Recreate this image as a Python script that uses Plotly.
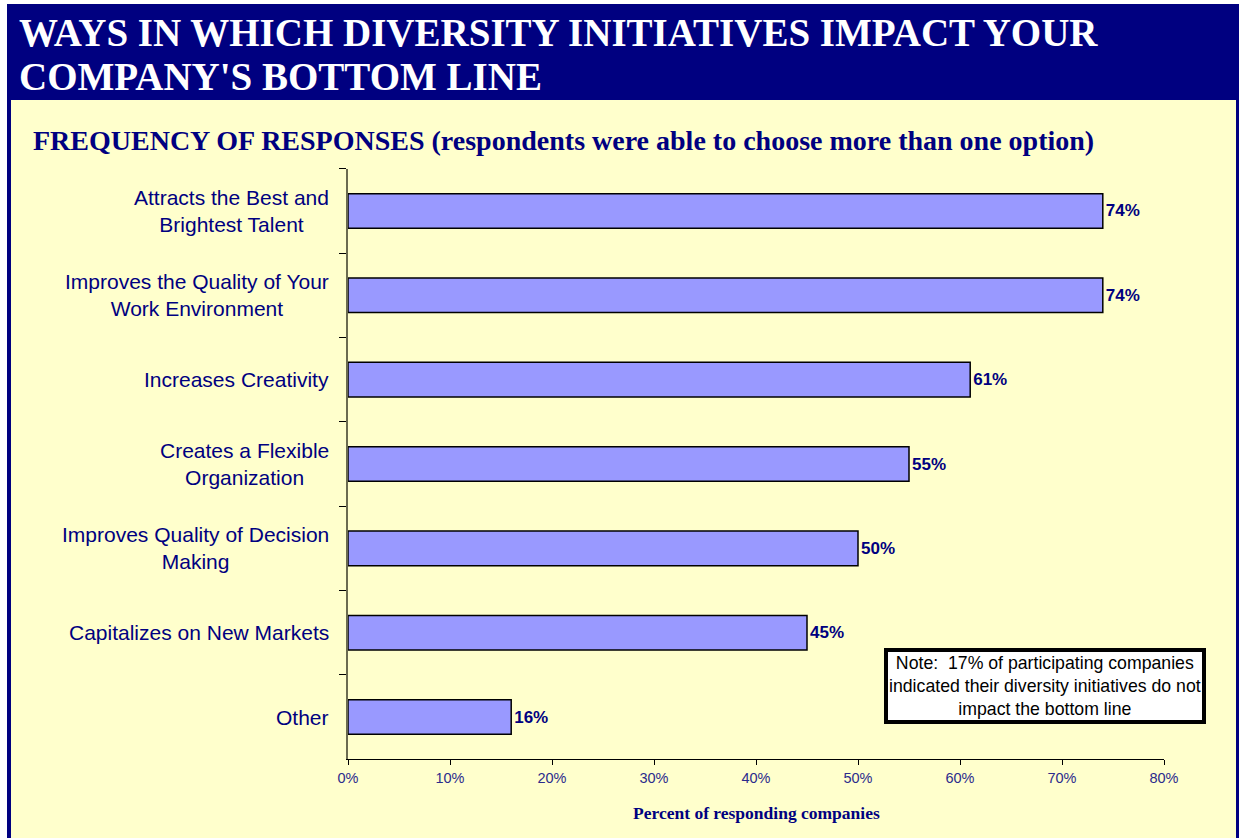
import plotly.graph_objects as go

W, H = 1239, 838

categories = [
    "Attracts the Best and<br>Brightest Talent",
    "Improves the Quality of Your<br>Work Environment",
    "Increases Creativity",
    "Creates a Flexible<br>Organization",
    "Improves Quality of Decision<br>Making",
    "Capitalizes on New Markets",
    "Other",
]
values = [74, 74, 61, 55, 50, 45, 16]
x_ticks = [0, 10, 20, 30, 40, 50, 60, 70, 80]
x_tick_labels = ["0%", "10%", "20%", "30%", "40%", "50%", "60%", "70%", "80%"]

title_line1 = "WAYS IN WHICH DIVERSITY INITIATIVES IMPACT YOUR"
title_line2 = "COMPANY'S BOTTOM LINE"
subtitle = "FREQUENCY OF RESPONSES (respondents were able to choose more than one option)"
x_title = "Percent of responding companies"
note = "Note:  17% of participating companies<br>indicated their diversity initiatives do not<br>impact the bottom line"

NAVY = "#000080"
SANS = "Arial, Liberation Sans, sans-serif"
SERIF = "Palatino Linotype, Book Antiqua, Liberation Serif, serif"


def px(x):
    return x / W


def py(y):
    return 1 - y / H


fig = go.Figure()
fig.add_trace(go.Bar(
    y=categories,
    x=values,
    orientation="h",
    marker=dict(color="#9999FF", line=dict(color="black", width=1.5)),
    text=[f"{v}%" for v in values],
    textposition="outside",
    textfont=dict(family=SANS, size=17, color=NAVY, weight="bold"),
    cliponaxis=False,
    width=0.41,
    showlegend=False,
))

shapes = [
    dict(type="rect", xref="paper", yref="paper", x0=px(7), x1=px(1239), y0=py(838), y1=py(4),
         fillcolor="#FFFFCC", line=dict(width=0), layer="below"),
    dict(type="rect", xref="paper", yref="paper", x0=px(7), x1=px(1239), y0=py(100), y1=py(4),
         fillcolor=NAVY, line=dict(width=0), layer="below"),
    dict(type="rect", xref="paper", yref="paper", x0=px(7), x1=px(11), y0=py(838), y1=py(4),
         fillcolor=NAVY, line=dict(width=0), layer="below"),
    dict(type="rect", xref="paper", yref="paper", x0=px(1236), x1=px(1239), y0=py(838), y1=py(4),
         fillcolor=NAVY, line=dict(width=0), layer="below"),
]

annotations = [
    dict(text=title_line1, xref="paper", yref="paper", x=px(17), y=py(32), xanchor="left", yanchor="middle",
         showarrow=False, font=dict(family=SERIF, size=39, color="white", weight="bold")),
    dict(text=title_line2, xref="paper", yref="paper", x=px(17), y=py(77), xanchor="left", yanchor="middle",
         showarrow=False, font=dict(family=SERIF, size=39, color="white", weight="bold")),
    dict(text=subtitle, xref="paper", yref="paper", x=px(31), y=py(140), xanchor="left", yanchor="middle",
         showarrow=False, font=dict(family=SERIF, size=28, color=NAVY, weight="bold")),
    dict(text=x_title, xref="paper", yref="paper", x=px(756), y=py(813), xanchor="center", yanchor="middle",
         showarrow=False, font=dict(family=SERIF, size=17.5, color=NAVY, weight="bold")),
    dict(text=note, xref="paper", yref="paper", x=px(1045), y=py(686), xanchor="center", yanchor="middle",
         showarrow=False, align="center", bgcolor="white", bordercolor="black", borderwidth=4, borderpad=1,
         font=dict(family=SANS, size=17.7, color="black")),
]
for c in categories:
    annotations.append(dict(text=c, xref="paper", yref="y", x=px(331), y=c, xanchor="right", yanchor="middle",
                            align="center", showarrow=False,
                            font=dict(family=SANS, size=21, color=NAVY)))

fig.update_layout(
    width=W, height=H,
    margin=dict(l=0, r=0, t=0, b=0, pad=0),
    paper_bgcolor="white",
    plot_bgcolor="rgba(0,0,0,0)",
    shapes=shapes,
    annotations=annotations,
    xaxis=dict(
        domain=[px(348), px(1164)], range=[0, 80], tickvals=x_ticks, ticktext=x_tick_labels,
        showgrid=False, zeroline=False, showline=True, linecolor="black", linewidth=1,
        ticks="outside", ticklen=5, tickcolor="black", automargin=False,
        tickfont=dict(family=SANS, size=14.5, color="#2B2B8C"),
    ),
    yaxis=dict(
        domain=[py(759.2), py(168.8)], autorange="reversed", categoryorder="array", categoryarray=categories,
        showgrid=False, zeroline=False, showline=True, linecolor="#6B6B50", linewidth=1.5,
        ticks="outside", ticklen=7, tickcolor="black", tickson="boundaries",
        showticklabels=False, automargin=False,
    ),
)

fig.write_html("out.html")
